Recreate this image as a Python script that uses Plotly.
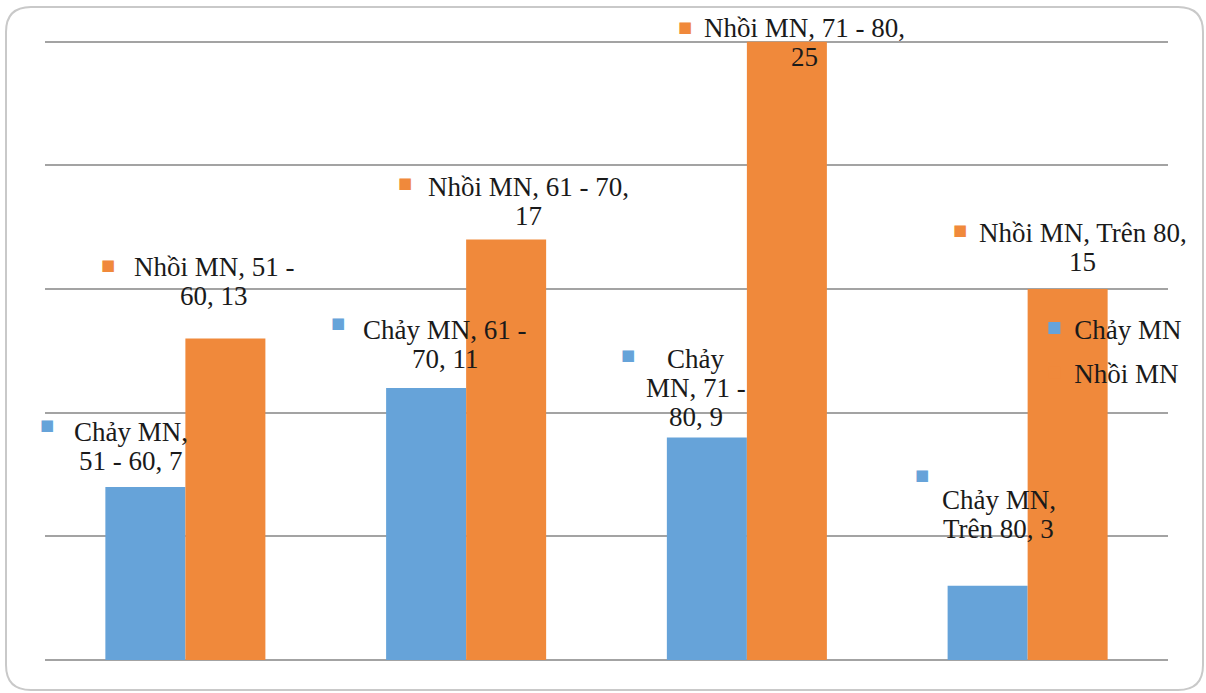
import plotly.graph_objects as go

# ---- data ----
categories = ["51 - 60", "61 - 70", "71 - 80", "Trên 80"]
chay_mn = [7, 11, 9, 3]
nhoi_mn = [13, 17, 25, 15]
series_names = ["Chảy MN", "Nhồi MN"]
series_values = [chay_mn, nhoi_mn]
colors = ["#66A3D9", "#F0893B"]

# wrapped data-label text, as in the original (series, category, value)
label_lines = {
    (0, 0): ["Chảy MN,", "51 - 60, 7"],
    (1, 0): ["Nhồi MN, 51 -", "60, 13"],
    (0, 1): ["Chảy MN, 61 -", "70, 11"],
    (1, 1): ["Nhồi MN, 61 - 70,", "17"],
    (0, 2): ["Chảy", "MN, 71 -", "80, 9"],
    (1, 2): ["Nhồi MN, 71 - 80,", "25"],
    (0, 3): ["Chảy MN,", "Trên 80, 3"],
    (1, 3): ["Nhồi MN, Trên 80,", "15"],
}
# label placement in pixels relative to (category centre, bar top):
# (text dx, first-line yshift, key-square dx, key-square yshift)
label_place = {
    (0, 0): (-54, 55, -138, 62),
    (1, 0): (29, 71, -77, 73),
    (0, 1): (-21, 58, -128, 65),
    (1, 1): (62, 53, -61, 57),
    (0, 2): (-51, 78, -119, 82),
    (1, 2): (58, 14, -62, 15),
    (0, 3): (-29, 86, -106, 111),
    (1, 3): (55, 56, -68, 59),
}

FONT = "Liberation Serif"
LINE_H = 29
Y_TOP = 25.15  # a little headroom so the top gridline (25) is drawn

fig = go.Figure()
for name, vals, col in zip(series_names, series_values, colors):
    fig.add_trace(go.Bar(
        x=categories, y=vals, name=name, marker=dict(color=col, line=dict(width=0)),
        legendgroup=name, hoverinfo="skip",
    ))

annotations = []
for (si, ci), lines in label_lines.items():
    dx, ys, sqdx, sqys = label_place[(si, ci)]
    v = series_values[si][ci]
    for li, line in enumerate(lines):
        annotations.append(dict(
            x=categories[ci], y=v, xref="x", yref="y", text=line, showarrow=False,
            xshift=dx, yshift=ys - LINE_H * li, xanchor="center", yanchor="middle",
            font=dict(family=FONT, size=27, color="#1a1a1a"),
        ))
    annotations.append(dict(
        x=categories[ci], y=v, xref="x", yref="y", text="■", showarrow=False,
        xshift=sqdx, yshift=sqys, xanchor="center", yanchor="middle",
        font=dict(family="DejaVu Sans", size=15, color=colors[si]),
    ))

# plot area in pixels: x 45..1168, y 38..660 -> frame at x 6..1203, y 7..690
PW, PH = 1123, 622
x0, x1 = -39 / PW, 1158 / PW
y0, y1 = -30 / PH, 653 / PH
rx, ry = 25 / PW, 25 / PH
path = (f"M {x0+rx},{y1} L {x1-rx},{y1} Q {x1},{y1} {x1},{y1-ry} "
        f"L {x1},{y0+ry} Q {x1},{y0} {x1-rx},{y0} L {x0+rx},{y0} "
        f"Q {x0},{y0} {x0},{y0+ry} L {x0},{y1-ry} Q {x0},{y1} {x0+rx},{y1} Z")

fig.update_layout(
    width=1206, height=693,
    margin=dict(l=45, r=38, t=38, b=33),
    paper_bgcolor="white", plot_bgcolor="white",
    barmode="group", bargap=0.43, bargroupgap=0,
    showlegend=True,
    legend=dict(x=0.881, y=(660 - 304) / PH, xanchor="left", yanchor="top",
                font=dict(family=FONT, size=27, color="#1a1a1a"),
                bgcolor="rgba(0,0,0,0)", tracegroupgap=6, itemwidth=30),
    xaxis=dict(range=[-0.5, 3.5], showticklabels=False, showgrid=False,
               zeroline=False, showline=False, ticks=""),
    yaxis=dict(range=[0, Y_TOP], tickvals=[0, 5, 10, 15, 20, 25], showticklabels=False,
               showgrid=True, gridcolor="#a3a3a3", gridwidth=2, zeroline=True,
               zerolinecolor="#a3a3a3", zerolinewidth=2, showline=False, ticks=""),
    annotations=annotations,
    shapes=[dict(type="path", xref="paper", yref="paper", path=path,
                 line=dict(color="#c9c9c9", width=2), fillcolor="rgba(0,0,0,0)",
                 layer="below")],
)

fig.write_html("out.html", config={"displayModeBar": False},
               post_script="document.body.style.margin='0';document.body.style.overflow='hidden';")
